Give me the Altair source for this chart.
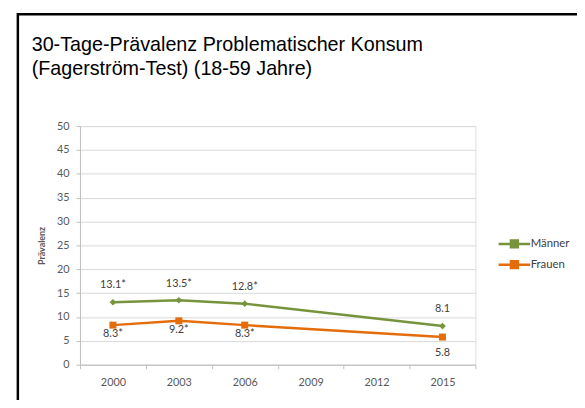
import altair as alt
import pandas as pd

# ---- data ----
axis_years = ["2000", "2003", "2006", "2009", "2012", "2015"]
data_years = ["2000", "2003", "2006", "2015"]
maenner = [13.1, 13.5, 12.8, 8.1]
frauen = [8.3, 9.2, 8.3, 5.8]
maenner_labels = ["13.1*", "13.5*", "12.8*", "8.1"]
frauen_labels = ["8.3*", "9.2*", "8.3*", "5.8"]
series = ["Männer", "Frauen"]
colors = ["#77933c", "#e46c0a"]
y_ticks = [0, 5, 10, 15, 20, 25, 30, 35, 40, 45, 50]
title_lines = ["30-Tage-Prävalenz Problematischer Konsum", "(Fagerström-Test) (18-59 Jahre)"]

rows = []
for name, vals, labs in [(series[0], maenner, maenner_labels), (series[1], frauen, frauen_labels)]:
    for yr, v, lab in zip(data_years, vals, labs):
        rows.append({"Jahr": yr, "Wert": v, "Label": lab, "Gruppe": name})
df = pd.DataFrame(rows)

W, H = 401, 242
LAB_FONT = "Lato"
GREY = "#595959"

x_enc = alt.X(
    "Jahr:O",
    scale=alt.Scale(type="band", domain=axis_years, paddingInner=0, paddingOuter=0),
    axis=alt.Axis(
        title=None, labelAngle=0, tickBand="extent", grid=False,
        domainColor="#bfbfbf", tickColor="#bfbfbf", tickSize=4,
        labelFont=LAB_FONT, labelFontSize=11, labelColor=GREY, labelPadding=8,
    ),
)
y_enc = alt.Y(
    "Wert:Q",
    scale=alt.Scale(domain=[0, 50], nice=False, zero=True),
    axis=alt.Axis(
        values=y_ticks, title="Prävalenz", grid=True, gridColor="#d9d9d9",
        domainColor="#bfbfbf", tickColor="#bfbfbf", tickSize=4,
        labelFont=LAB_FONT, labelFontSize=11, labelColor=GREY, labelPadding=7,
        titleFont=LAB_FONT, titleFontSize=9, titleFontWeight="bold", titleColor=GREY,
        titleAngle=270, titleX=-39, titleY=H / 2, titleAlign="center", titleBaseline="middle",
    ),
)
color_enc = alt.Color(
    "Gruppe:N",
    scale=alt.Scale(domain=series, range=colors),
    legend=alt.Legend(
        title=None, orient="none", legendX=434, legendY=113,
        symbolType="M-3.2,0H3.2M-0.7,-0.7H0.7V0.7H-0.7Z", symbolSize=100,
        symbolStrokeWidth=2.5, labelOffset=10, rowPadding=4,
        labelFont=LAB_FONT, labelFontSize=11.5, labelColor="#404040",
    ),
)

base = alt.Chart(df)

lines = base.mark_line(strokeWidth=2.5).encode(x=x_enc, y=y_enc, color=color_enc)

pts_m = base.transform_filter(alt.datum.Gruppe == series[0]).mark_point(
    shape="diamond", size=45, filled=True, opacity=1
).encode(x=x_enc, y=y_enc, color=alt.Color("Gruppe:N", scale=alt.Scale(domain=series, range=colors), legend=None))

pts_f = base.transform_filter(alt.datum.Gruppe == series[1]).mark_point(
    shape="square", size=50, filled=True, opacity=1
).encode(x=x_enc, y=y_enc, color=alt.Color("Gruppe:N", scale=alt.Scale(domain=series, range=colors), legend=None))

txt_style = dict(font=LAB_FONT, fontSize=11, color="#404040")
txt_m = base.transform_filter(alt.datum.Gruppe == series[0]).mark_text(dy=-17, **txt_style).encode(
    x=x_enc, y=y_enc, text="Label:N")
txt_f1 = base.transform_filter(
    (alt.datum.Gruppe == series[1]) & (alt.datum.Jahr != "2015")
).mark_text(dy=9, **txt_style).encode(x=x_enc, y=y_enc, text="Label:N")
txt_f2 = base.transform_filter(
    (alt.datum.Gruppe == series[1]) & (alt.datum.Jahr == "2015")
).mark_text(dy=16, **txt_style).encode(x=x_enc, y=y_enc, text="Label:N")

frame = alt.Chart(alt.Data(values=[{}])).mark_rect(
    fill=None, stroke="black", strokeWidth=2.5, clip=False
).encode(x=alt.value(-63), x2=alt.value(600), y=alt.value(-113.5), y2=alt.value(400))

chart = alt.layer(frame, lines, pts_m, pts_f, txt_m, txt_f1, txt_f2).properties(
    width=W, height=H,
    title=alt.TitleParams(
        text=title_lines, anchor="start", frame="group", dx=-49, offset=-67,
        font="Liberation Sans", fontSize=20, fontWeight="normal", color="black", lineHeight=24,
    ),
    autosize=alt.AutoSizeParams(type="none"),
    padding={"left": 73, "top": 117, "right": 103, "bottom": 33},
).configure_view(stroke=None).configure(background="white")

chart.save("out.html", embed_options={"renderer": "svg", "actions": False})
